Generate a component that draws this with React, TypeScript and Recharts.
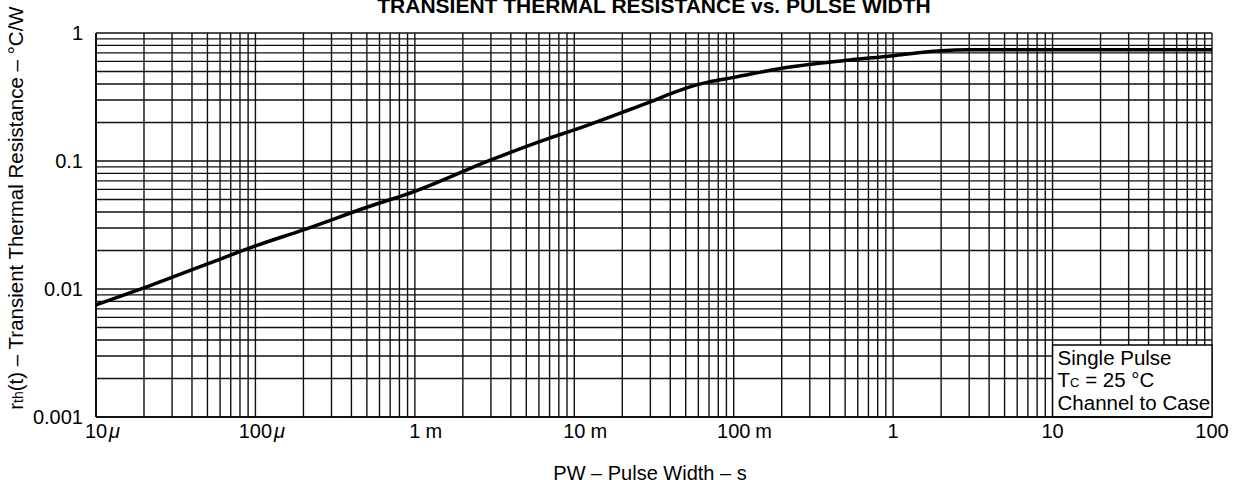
import { LineChart, Line, XAxis, YAxis, CartesianGrid, ReferenceArea } from "recharts";

// curve (PW in seconds, rth in °C/W)
const pulseWidth = [
  1e-5, 2e-5, 5e-5, 1e-4, 2e-4, 5e-4, 1e-3, 3e-3, 7e-3, 1e-2, 2e-2, 3e-2,
  4e-2, 5.5e-2, 7e-2, 1e-1, 2e-1, 5e-1, 1, 1.5, 2, 3, 10, 100,
];
const thermalResistance = [
  0.0075, 0.0102, 0.0157, 0.0217, 0.029, 0.0435, 0.058, 0.102, 0.151, 0.175,
  0.24, 0.29, 0.335, 0.385, 0.415, 0.45, 0.53, 0.61, 0.665, 0.705, 0.728,
  0.74, 0.74, 0.74,
];

const xDecades = [1e-5, 1e-4, 1e-3, 1e-2, 1e-1, 1, 10, 100];
const xTickNumbers = ["10", "100", "1", "10", "100", "1", "10", "100"];
const xTickUnits = ["μ", "μ", "m", "m", "m", "", "", ""];

const yDecades = [0.001, 0.01, 0.1, 1];
const yTickLabels = ["0.001", "0.01", "0.1", "1"];

const minorSteps = [1, 2, 3, 4, 5, 6, 7, 8, 9];

const FONT = '"Liberation Sans", Arial, Helvetica, sans-serif';

const xTicks = xDecades
  .slice(0, -1)
  .flatMap((d) => minorSteps.map((m) => d * m))
  .concat(xDecades.slice(-1));
const yTicks = yDecades
  .slice(0, -1)
  .flatMap((d) => minorSteps.map((m) => d * m))
  .concat(yDecades.slice(-1));

const chartData = pulseWidth.map((pw, i) => ({ pw, rth: thermalResistance[i] }));

const decadeIndex = (list: number[], v: number) =>
  list.findIndex((d) => Math.abs(Math.log10(d) - Math.log10(v)) < 1e-6);

const XTick = (props: any) => {
  const { x, y, payload } = props;
  const i = decadeIndex(xDecades, payload.value);
  if (i < 0) return <g />;
  const num = xTickNumbers[i];
  const unit = xTickUnits[i];
  const half = (num.length * 11.1) / 2;
  return (
    <g fontFamily={FONT} fontSize={20} fill="#000">
      <text x={x} y={y + 21} textAnchor="middle">
        {num}
      </text>
      {unit && (
        <text
          x={x + half + (unit === "m" ? 5 : 2)}
          y={y + 21}
          fontStyle={unit === "μ" ? "italic" : "normal"}
        >
          {unit}
        </text>
      )}
    </g>
  );
};

const YTick = (props: any) => {
  const { x, y, payload } = props;
  const i = decadeIndex(yDecades, payload.value);
  if (i < 0) return <g />;
  return (
    <text x={x} y={y + 7} textAnchor="end" fontFamily={FONT} fontSize={20} fill="#000">
      {yTickLabels[i]}
    </text>
  );
};

const YTitle = (props: any) => {
  const { viewBox } = props;
  const cx = viewBox.x + 23;
  const cy = viewBox.y + viewBox.height / 2 - 17;
  return (
    <text
      transform={`translate(${cx},${cy}) rotate(-90)`}
      textAnchor="middle"
      fontFamily={FONT}
      fontSize={20.5}
      fill="#000"
    >
      r<tspan fontSize={14}>th</tspan>
      <tspan>(t) – Transient Thermal Resistance – °C/W</tspan>
    </text>
  );
};

const XTitle = (props: any) => {
  const { viewBox } = props;
  return (
    <text
      x={viewBox.x + viewBox.width / 2 - 4}
      y={viewBox.y + 63}
      textAnchor="middle"
      fontFamily={FONT}
      fontSize={20}
      fill="#000"
    >
      PW – Pulse Width – s
    </text>
  );
};

const NoteBox = (props: any) => {
  const { viewBox } = props;
  const x = viewBox.x + 5;
  const y = viewBox.y;
  return (
    <g fontFamily={FONT} fontSize={20.5} fill="#000">
      <text x={x} y={y + 20}>Single Pulse</text>
      <text x={x} y={y + 42}>
        T<tspan fontSize={13}>C</tspan> = 25 °C
      </text>
      <text x={x} y={y + 65}>Channel to Case</text>
    </g>
  );
};

export default function App() {
  return (
    <div style={{ position: "absolute", left: 0, top: 0, width: 1234, height: 490, background: "#fff" }}>
      <div
        style={{
          position: "absolute",
          left: 96,
          top: -5,
          width: 1116,
          textAlign: "center",
          fontFamily: FONT,
          fontSize: 21,
          lineHeight: "21px",
          fontWeight: "bold",
          color: "#000",
          zIndex: 2,
        }}
      >
        TRANSIENT THERMAL RESISTANCE vs. PULSE WIDTH
      </div>
      <LineChart
        width={1234}
        height={490}
        data={chartData}
        margin={{ top: 33, right: 22, left: 0, bottom: 0 }}
      >
        <CartesianGrid stroke="#111" strokeWidth={1.4} />
        <XAxis
          dataKey="pw"
          type="number"
          scale="log"
          domain={[1e-5, 100]}
          ticks={xTicks}
          interval={0}
          height={73}
          tickSize={0}
          tickMargin={0}
          tickLine={false}
          axisLine={{ stroke: "#000", strokeWidth: 1.6 }}
          tick={<XTick />}
          allowDataOverflow
          label={<XTitle />}
        />
        <YAxis
          type="number"
          scale="log"
          domain={[0.001, 1]}
          ticks={yTicks}
          interval={0}
          width={96}
          tickSize={0}
          tickMargin={13}
          tickLine={false}
          axisLine={{ stroke: "#000", strokeWidth: 1.6 }}
          tick={<YTick />}
          allowDataOverflow
          label={<YTitle />}
        />
        <ReferenceArea
          x1={10}
          x2={100}
          y1={0.001}
          y2={0.00365}
          fill="#fff"
          fillOpacity={1}
          stroke="#000"
          strokeWidth={1.4}
          ifOverflow="visible"
          label={<NoteBox />}
        />
        <Line
          type="monotone"
          dataKey="rth"
          stroke="#000"
          strokeWidth={3.5}
          dot={false}
          isAnimationActive={false}
        />
      </LineChart>
    </div>
  );
}
